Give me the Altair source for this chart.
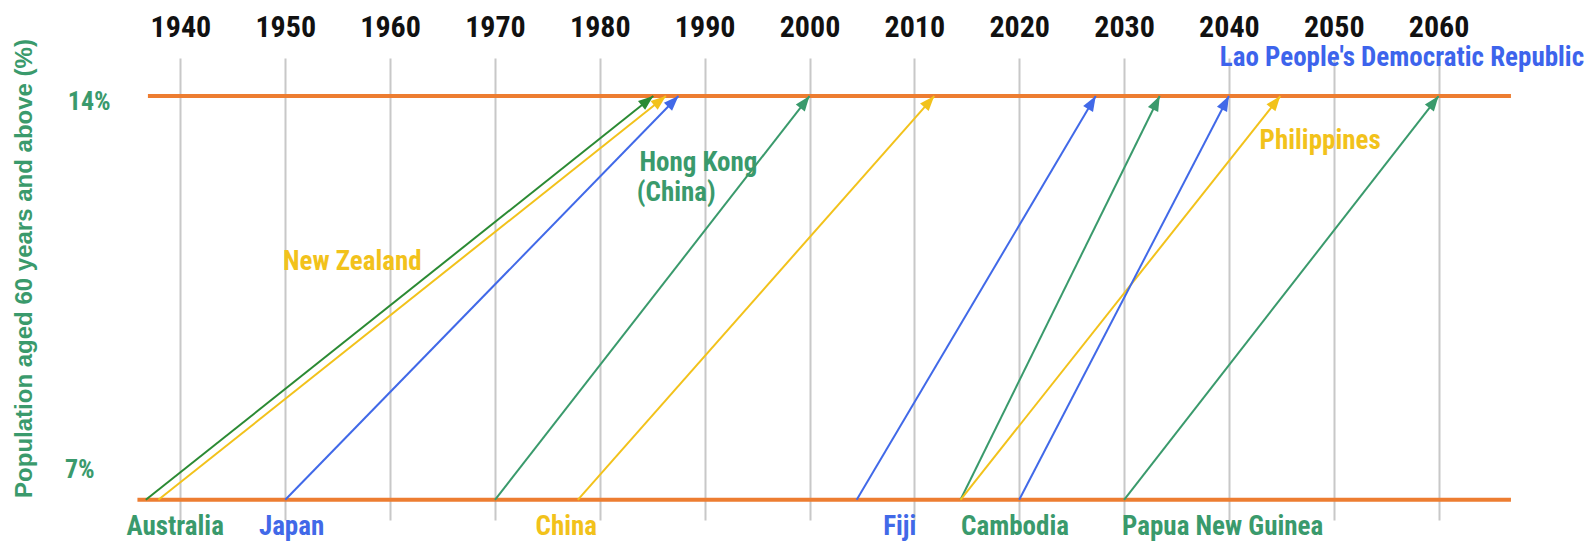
import math
import altair as alt
import pandas as pd

# ---------------- data ----------------
countries = ["Australia", "New Zealand", "Japan", "Hong Kong (China)", "China",
             "Fiji", "Cambodia", "Philippines",
             "Lao People's Democratic Republic", "Papua New Guinea"]
year_7pct = [1936.7, 1937.9, 1950.0, 1970.0, 1977.9, 2004.5, 2014.4, 2014.4, 2020.0, 2030.0]
year_14pct = [1985.1, 1986.3, 1987.5, 2000.0, 2011.9, 2027.3, 2033.4, 2044.9, 2040.0, 2060.0]
arrow_colors = ["#2b8a33", "#f2c21b", "#4169e8", "#3a9a6c", "#f2c21b",
                "#4169e8", "#3a9a6c", "#f2c21b", "#4169e8", "#3a9a6c"]

thresholds = [14, 7]
threshold_start = [1936.9, 1935.9]
threshold_end = [2066.9, 2066.9]

decades = list(range(1940, 2061, 10))

label_texts = ["Australia", "Japan", "China", "Fiji", "Cambodia", "Papua New Guinea",
               "New Zealand", "Hong Kong", "(China)", "Philippines",
               "Lao People's Democratic Republic"]
label_x = [1939.5, 1950.6, 1976.8, 2008.6, 2019.6, 2039.4,
           1956.4, 1989.4, 1987.3, 2048.7, 2056.5]
label_y = [6.53, 6.53, 6.53, 6.53, 6.53, 6.53,
           11.12, 12.84, 12.32, 13.22, 14.66]
label_colors = ["#3a9a6c", "#4169e8", "#f2c21b", "#4169e8", "#3a9a6c", "#3a9a6c",
                "#f2c21b", "#3a9a6c", "#3a9a6c", "#f2c21b", "#3d64ec"]

pct_texts = ["14%", "7%"]
pct_x = [1931.3, 1930.4]
pct_y = [13.90, 7.52]

# ---------------- layout ----------------
W, H = 1384, 462
X_DOMAIN = [1935, 2067]
Y_DOMAIN = [6.65, 14.66]
xscale = alt.Scale(domain=X_DOMAIN, nice=False, zero=False)
yscale = alt.Scale(domain=Y_DOMAIN, nice=False, zero=False)

FONT_N = "Liberation Sans Narrow, Arial Narrow, Roboto Condensed, Liberation Sans, sans-serif"
GREEN = "#3a9a6c"
Y_TITLE = "Population aged 60 years and above (%)"

xaxis = alt.Axis(orient="top", values=decades, format="d",
                 labelFont=FONT_N, labelFontSize=30, labelFontWeight="bold",
                 labelColor="#111111", labelPadding=22, labelBaseline="alphabetic",
                 domain=False, ticks=False, grid=True,
                 gridColor="#c8c8c8", gridWidth=2, title=None)
yaxis = alt.Axis(labels=False, ticks=False, domain=False, grid=False,
                 title=Y_TITLE,
                 titleFont="Liberation Sans, Arial, sans-serif", titleFontSize=24,
                 titleFontWeight="bold", titleColor=GREEN,
                 titleX=-104, titleY=210, titleAngle=270,
                 titleAlign="center", titleBaseline="middle")

px_per_year = W / (X_DOMAIN[1] - X_DOMAIN[0])
px_per_unit = H / (Y_DOMAIN[1] - Y_DOMAIN[0])

arrows = pd.DataFrame({
    "country": countries,
    "x0": year_7pct,
    "x1": year_14pct,
    "color": arrow_colors,
})
arrows["y0"] = 7
arrows["y1"] = 14
arrows["angle"] = [
    math.degrees(math.atan2((b - a) * px_per_year, 7 * px_per_unit))
    for a, b in zip(year_7pct, year_14pct)
]

thr = pd.DataFrame({"level": thresholds, "start": threshold_start, "end": threshold_end})
labels = pd.DataFrame({"text": label_texts, "x": label_x, "y": label_y, "color": label_colors})
pcts = pd.DataFrame({"text": pct_texts, "x": pct_x, "y": pct_y})


def X(field):
    return alt.X(field, scale=xscale, axis=xaxis, title=None)


def Y(field):
    return alt.Y(field, scale=yscale, axis=yaxis, title=Y_TITLE)


rules = alt.Chart(thr).mark_rule(color="#ed7d31", strokeWidth=4).encode(
    x=X("start:Q"), x2="end:Q", y=Y("level:Q"),
)

lines = alt.Chart(arrows).mark_rule(strokeWidth=2).encode(
    x=X("x0:Q"), x2="x1:Q", y=Y("y0:Q"), y2="y1:Q",
    color=alt.Color("color:N", scale=None),
)

ARROW_PATH = "M0,0L-0.38,1L0.38,1Z"
heads = alt.Chart(arrows).mark_point(shape=ARROW_PATH, filled=True, size=900,
                                     opacity=1, strokeWidth=0).encode(
    x=X("x1:Q"), y=Y("y1:Q"),
    angle=alt.Angle("angle:Q", scale=None),
    color=alt.Color("color:N", scale=None),
)

texts = alt.Chart(labels).mark_text(font=FONT_N, fontSize=27, fontWeight="bold",
                                    baseline="middle", align="center").encode(
    x=X("x:Q"), y=Y("y:Q"),
    text="text:N",
    color=alt.Color("color:N", scale=None),
)

pct_marks = alt.Chart(pcts).mark_text(font=FONT_N, fontSize=26, fontWeight="bold",
                                      baseline="middle", align="center", color=GREEN).encode(
    x=X("x:Q"), y=Y("y:Q"),
    text="text:N",
)

chart = alt.layer(rules, lines, heads, texts, pct_marks).properties(
    width=W, height=H,
    autosize=alt.AutoSizeParams(type="none"),
    padding={"left": 120, "top": 50, "right": 74, "bottom": 21},
).configure_view(stroke=None)

chart.save("out.html", embed_options={"renderer": "svg", "actions": False})
